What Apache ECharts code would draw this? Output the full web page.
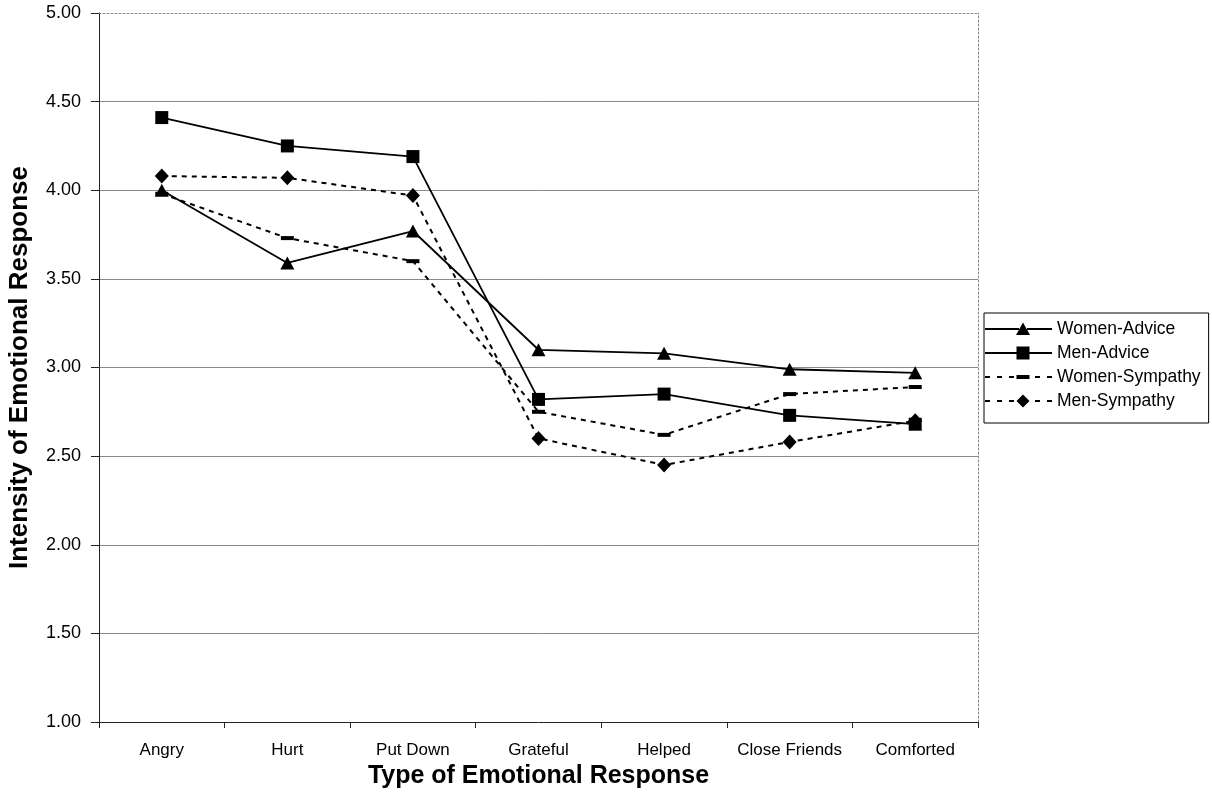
<!DOCTYPE html>
<html>
<head>
<meta charset="utf-8">
<title>Intensity of Emotional Response</title>
<script src="https://cdn.jsdelivr.net/npm/echarts@6/dist/echarts.min.js"></script>
<style>
  html, body { margin: 0; padding: 0; background: #fff; }
  #chart { width: 1212px; height: 801px; }
</style>
</head>
<body>
<div id="chart"></div>
<script>
// Categories of emotional response
const categories = ['Angry', 'Hurt', 'Put Down', 'Grateful', 'Helped', 'Close Friends', 'Comforted'];

// Mean intensity ratings per group
const womenAdvice   = [4.00, 3.59, 3.77, 3.10, 3.08, 2.99, 2.97];
const menAdvice     = [4.41, 4.25, 4.19, 2.82, 2.85, 2.73, 2.68];
const womenSympathy = [3.98, 3.73, 3.60, 2.75, 2.62, 2.85, 2.89];
const menSympathy   = [4.08, 4.07, 3.97, 2.60, 2.45, 2.58, 2.70];

const seriesNames = ['Women-Advice', 'Men-Advice', 'Women-Sympathy', 'Men-Sympathy'];

const FONT = 'Liberation Sans, Arial, Helvetica, sans-serif';
const dotted = [5, 5];

// Legend keys: a 67x14 line sample with the series marker set slightly right of centre.
// Two hair-thin corner specks pin the icon's bounding box to the full key size.
const corners = 'M0 0 L0.01 0 L0 0.01 Z M67 14 L66.99 14 L67 13.99 Z ';
const solidLine = 'M0 6.1 L34 6.1 L34 7.9 L0 7.9 Z M42 6.1 L67 6.1 L67 7.9 L42 7.9 Z ';
const dashLine = 'M0 6 L5 6 L5 8 L0 8 Z M12 6 L17 6 L17 8 L12 8 Z M24 6 L29 6 L29 8 L24 8 Z ' +
                 'M50 6 L55 6 L55 8 L50 8 Z M62 6 L67 6 L67 8 L62 8 Z ';
const legendIcons = {
  'Women-Advice':   'path://' + corners + solidLine + 'M38 0.5 L45 13 L31 13 Z',
  'Men-Advice':     'path://' + corners + solidLine + 'M31.5 0.5 L44.5 0.5 L44.5 13.5 L31.5 13.5 Z',
  'Women-Sympathy': 'path://' + corners + dashLine + 'M31.5 5 L44.5 5 L44.5 9 L31.5 9 Z',
  'Men-Sympathy':   'path://' + corners + dashLine + 'M38 0.5 L44.5 7 L38 13.5 L31.5 7 Z'
};

function lineSeries(name, data, symbol, symbolSize, dashed) {
  return {
    name: name,
    type: 'line',
    data: data,
    symbol: symbol,
    symbolSize: symbolSize,
    showAllSymbol: true,
    z: dashed ? 3 : 4,
    itemStyle: { color: '#000', borderWidth: 0 },
    lineStyle: { color: '#000', width: dashed ? 2 : 1.8, type: dashed ? dotted : 'solid' },
    emphasis: { disabled: true },
    animation: false
  };
}

const chart = echarts.init(document.getElementById('chart'), null, { renderer: 'canvas' });

chart.setOption({
  backgroundColor: '#fff',
  animation: false,
  grid: { left: 99, right: 234, top: 13, bottom: 79, containLabel: false, outerBoundsMode: 'none' },
  legend: {
    orient: 'vertical',
    left: 984,
    top: 313,
    padding: [7, 8, 13, 1],
    itemWidth: 67,
    itemHeight: 14,
    itemGap: 6,
    borderColor: '#000',
    borderWidth: 1,
    borderRadius: 0,
    backgroundColor: '#fff',
    selectedMode: false,
    textStyle: { fontFamily: FONT, fontSize: 17.5, color: '#000' },
    data: seriesNames.map(n => ({ name: n, icon: legendIcons[n] }))
  },
  xAxis: [
    {
      type: 'category',
      data: categories,
      boundaryGap: true,
      name: 'Type of Emotional Response',
      nameLocation: 'middle',
      nameGap: 37,
      nameTextStyle: { fontFamily: FONT, fontSize: 25, fontWeight: 'bold', color: '#000' },
      axisLine: { lineStyle: { color: '#222', width: 1 } },
      axisTick: { show: true, alignWithLabel: false, length: 6, lineStyle: { color: '#222' } },
      axisLabel: { fontFamily: FONT, fontSize: 17, color: '#000', margin: 20, interval: 0 },
      splitLine: { show: false }
    },
    {
      type: 'category',
      data: categories,
      position: 'top',
      axisLine: { show: true, lineStyle: { color: '#888', width: 1, type: [2, 2] } },
      axisTick: { show: false },
      axisLabel: { show: false },
      splitLine: { show: false }
    }
  ],
  yAxis: [
    {
      type: 'value',
      min: 1,
      max: 5,
      interval: 0.5,
      name: 'Intensity of Emotional Response',
      nameLocation: 'middle',
      nameGap: 66,
      nameTextStyle: { fontFamily: FONT, fontSize: 26, fontWeight: 'bold', color: '#000' },
      axisLine: { show: true, lineStyle: { color: '#222', width: 1 } },
      axisTick: { show: true, length: 8, lineStyle: { color: '#222' } },
      axisLabel: {
        fontFamily: FONT, fontSize: 18, color: '#000', margin: 18,
        formatter: v => v.toFixed(2)
      },
      splitLine: { show: true, showMinLine: false, showMaxLine: false, lineStyle: { color: '#8a8a8a', width: 1 } }
    },
    {
      type: 'value',
      min: 1,
      max: 5,
      interval: 0.5,
      position: 'right',
      axisLine: { show: true, lineStyle: { color: '#888', width: 1, type: [2, 2] } },
      axisTick: { show: false },
      axisLabel: { show: false },
      splitLine: { show: false }
    }
  ],
  series: [
    lineSeries('Women-Advice', womenAdvice, 'triangle', [14, 13], false),
    lineSeries('Men-Advice', menAdvice, 'rect', 13, false),
    lineSeries('Women-Sympathy', womenSympathy, 'rect', [13, 4], true),
    lineSeries('Men-Sympathy', menSympathy, 'diamond', [14, 15], true)
  ]
});
</script>
</body>
</html>
